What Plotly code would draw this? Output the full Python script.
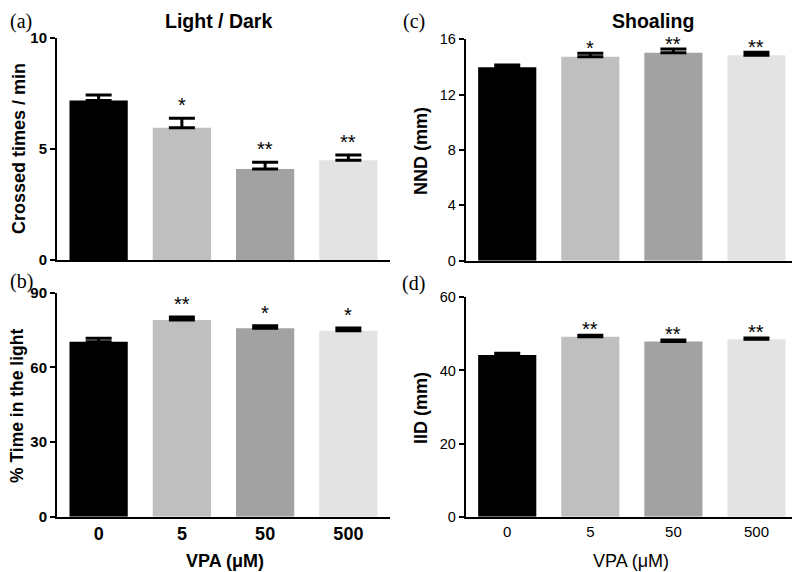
import plotly.graph_objects as go

doses = ["0", "5", "50", "500"]
bar_colors = ["#000000", "#bfbfbf", "#a2a2a2", "#e3e3e3"]

crossed_mean = [7.18, 5.96, 4.10, 4.49]
crossed_sem = [0.25, 0.42, 0.30, 0.24]
crossed_sig = ["", "*", "**", "**"]

light_mean = [70.3, 79.0, 75.7, 74.7]
light_sem = [1.4, 1.2, 1.0, 1.1]
light_sig = ["", "**", "*", "*"]

nnd_mean = [13.98, 14.74, 15.03, 14.84]
nnd_sem = [0.16, 0.25, 0.27, 0.22]
nnd_sig = ["", "*", "**", "**"]

iid_mean = [44.2, 49.2, 47.9, 48.5]
iid_sem = [0.5, 0.4, 0.4, 0.4]
iid_sig = ["", "**", "**", "**"]

SANS = "Liberation Sans, Arial, sans-serif"
SERIF = "Liberation Serif, Times New Roman, serif"
W, H = 800, 572
OFF = 8  # page body margin


def px_x(p):
    return (p - OFF) / W


def px_y(p):
    return 1 - (p - OFF) / H


fig = go.Figure()
xpos = list(range(len(doses)))

panels = [
    (crossed_mean, crossed_sem, crossed_sig, "", (57, 390), (38, 260), [0, 10], [0, 5, 10], True, False, 0),
    (light_mean, light_sem, light_sig, "2", (57, 390), (292.7, 516.7), [0, 90], [0, 30, 60, 90], True, True, 0),
    (nnd_mean, nnd_sem, nnd_sig, "3", (465.7, 798), (39.3, 260.7), [0, 16], [0, 4, 8, 12, 16], False, False, -8),
    (iid_mean, iid_sem, iid_sig, "4", (465.7, 798), (297.3, 516.7), [0, 60], [0, 20, 40, 60], False, True, -7),
]

annotations = []
for means, sems, sig, s, xd, yd, yr, yt, bold, showx, starshift in panels:
    xa = "x" + s
    ya = "y" + s
    fig.add_trace(go.Bar(
        x=xpos, y=means, width=0.7,
        marker=dict(color=bar_colors, line=dict(width=0)),
        error_y=dict(type="data", symmetric=False, array=sems,
                     arrayminus=[0] * len(sems), color="black",
                     thickness=3, width=13),
        xaxis=xa, yaxis=ya, showlegend=False, hoverinfo="skip",
    ))
    weight = "bold" if bold else "normal"
    fig.update_layout(**{
        ("xaxis" + s): dict(
            domain=[px_x(xd[0]), px_x(xd[1])], anchor=ya, range=[-0.5, 3.5],
            showline=True, linewidth=2, linecolor="black", showgrid=False,
            zeroline=False, ticks="", tickvals=xpos, ticktext=doses,
            showticklabels=showx, automargin=False,
            tickfont=dict(family=SANS, size=18 if bold else 15,
                          color="black", weight=weight),
            fixedrange=True,
        ),
        ("yaxis" + s): dict(
            domain=[px_y(yd[1]), px_y(yd[0])], anchor=xa, range=yr,
            showline=True, linewidth=2, linecolor="black", showgrid=False,
            zeroline=False, ticks="outside", ticklen=5, tickwidth=2,
            tickcolor="black", tickvals=yt, automargin=False,
            tickfont=dict(family=SANS, size=15 if bold else 14.5,
                          color="black", weight=weight),
            fixedrange=True,
        ),
    })
    for i, (m, e, t) in enumerate(zip(means, sems, sig)):
        if t:
            annotations.append(dict(
                x=i, y=m + e, xref=xa, yref=ya, text=t, showarrow=False,
                yanchor="bottom", yshift=starshift,
                font=dict(family=SANS, size=20, color="black"),
            ))


def ann(text, x, y, size, family=SANS, weight="normal", angle=0,
        xanchor="center", yanchor="middle"):
    annotations.append(dict(
        text=text, x=px_x(x), y=px_y(y), xref="paper", yref="paper",
        showarrow=False, xanchor=xanchor, yanchor=yanchor, textangle=angle,
        font=dict(family=family, size=size, color="black", weight=weight),
    ))


ann("Light / Dark", 218, 8, 19.5, weight="bold", yanchor="top")
ann("Shoaling", 653, 8, 19.5, weight="bold", yanchor="top")
ann("(a)", 8, 8, 20, family=SERIF, xanchor="left", yanchor="top")
ann("(b)", 8, 282, 20, family=SERIF, xanchor="left")
ann("(c)", 414, 8, 20, family=SERIF, yanchor="top")
ann("(d)", 414, 283, 20, family=SERIF)
ann("Crossed times / min", 19, 149, 18, weight="bold", angle=-90)
ann("% Time in the light", 17, 406, 17.5, weight="bold", angle=-90)
ann("NND (mm)", 421, 151, 18, weight="bold", angle=-90)
ann("IID (mm)", 421, 408, 18, weight="bold", angle=-90)
ann("VPA (μM)", 225, 561, 18, weight="bold")
ann("VPA (μM)", 631, 561, 18)

fig.update_layout(
    width=W, height=H, margin=dict(l=0, r=0, t=0, b=0),
    paper_bgcolor="white", plot_bgcolor="white",
    annotations=annotations,
)

fig.write_html("out.html")
